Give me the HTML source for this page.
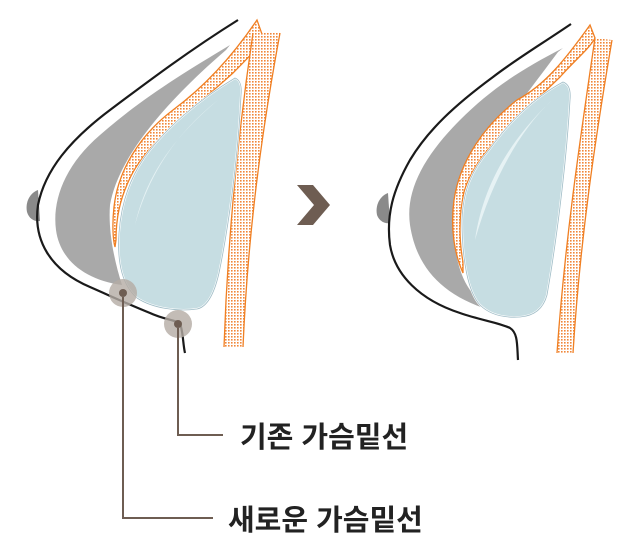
<!DOCTYPE html>
<html><head><meta charset="utf-8"><style>
html,body{margin:0;padding:0;background:#fff;}
svg{display:block;}
</style></head><body>
<svg width="638" height="554" viewBox="0 0 638 554" xmlns="http://www.w3.org/2000/svg">
<defs>
<pattern id="dots" width="3" height="3" patternUnits="userSpaceOnUse">
<rect width="3" height="3" fill="#fff"/>
<rect width="1.6" height="1.6" fill="#f0873a"/>
</pattern>
</defs>

<!-- LEFT FIGURE -->
<path d="M38,190 C30,193 25,202 27,212 C29,219 35,222 40,221 Z" fill="#8a8a8a"/>
<path d="M230,45 C180,75 140,100 100,135 C65,165 52,200 56,230 C60,260 85,280 122,285 C114,260 108,230 110,205 C116,170 145,120 226,50 Z" fill="#a9a9a9"/>
<path d="M257,20 C230,60 200,90 173,110 C140,135 118,170 114,207 C112,225 113,240 115,247 L116,240 C116,220 119,200 131,176 C148,142 190,112 233,73 C248,58 258,48 263,37 Z" fill="url(#dots)" stroke="#f07f22" stroke-width="1.3"/>
<path d="M253,33 C240,120 228,230 224,347 L243,347 C248,230 262,130 280,33 Z" fill="url(#dots)"/>
<path d="M253,33 C240,120 228,230 224,347" fill="none" stroke="#f07f22" stroke-width="1.3"/>
<path d="M280,33 C262,130 248,230 243,347" fill="none" stroke="#f07f22" stroke-width="1.3"/>
<path d="M235,78 C240,80 242,85 241,95 C238,160 228,230 219,273 C214,295 207,307 197,309 C177,312 152,308 137,298 C122,285 117,262 119,233 C121,205 129,180 144,158 C164,130 198,100 235,78 Z" fill="#c6dde2" stroke="#fff" stroke-width="2"/>
<path d="M235,78 C240,80 242,85 241,95 C238,160 228,230 219,273 C214,295 207,307 197,309 C177,312 152,308 137,298 C122,285 117,262 119,233 C121,205 129,180 144,158 C164,130 198,100 235,78 Z" fill="none" stroke="#9fbcc6" stroke-width="0.8"/>
<path d="M218,100 C180,130 150,170 135,225 C145,180 170,140 218,100 Z" fill="#e6f2f4"/>
<path d="M238,20 C190,50 150,80 110,110 C70,140 45,170 38,205 C33,240 50,270 90,287 C115,298 130,305 150,313 C165,320 177,320 180,324 C183,330 183,345 185,353" fill="none" stroke="#1a1a1a" stroke-width="2.2"/>
<circle cx="123" cy="293" r="14" fill="#b4aba4" opacity="0.8"/>
<circle cx="123" cy="293" r="4" fill="#6e5d52"/>
<circle cx="178" cy="324" r="14" fill="#b4aba4" opacity="0.8"/>
<circle cx="178" cy="324" r="4" fill="#6e5d52"/>
<polyline points="123,297 123,518 213,518" fill="none" stroke="#6e5d52" stroke-width="2"/>
<polyline points="178,328 178,435 223,435" fill="none" stroke="#6e5d52" stroke-width="2"/>
<text x="228" y="530" font-family="'Liberation Sans','Noto Sans CJK KR',sans-serif" font-size="29" font-weight="bold" fill="#222">새로운 가슴밑선</text>
<text x="240" y="447" font-family="'Liberation Sans','Noto Sans CJK KR',sans-serif" font-size="29" font-weight="bold" fill="#222">기존 가슴밑선</text>

<path d="M297,185 L313,185 L330,205 L313,225 L297,225 L314,205 Z" fill="#6e5d52"/>

<!-- RIGHT FIGURE -->
<path d="M388,193 C380,196 375,205 377,215 C379,221 385,224 390,223 Z" fill="#8a8a8a"/>
<path d="M563,48 C520,70 490,90 460,120 C425,155 405,190 410,225 C416,265 440,295 490,310 L470,290 C456,270 452,240 456,210 C466,170 500,130 558,52 Z" fill="#a9a9a9"/>
<path d="M590,25 C565,60 545,85 517,100 C485,125 460,160 454,200 C450,230 455,255 463,273 L463,262 C459,240 459,215 464,192 C474,157 505,130 560,77 C575,60 590,48 595,38 Z" fill="url(#dots)" stroke="#f07f22" stroke-width="1.3"/>
<path d="M595,38 C580,140 565,240 557,353 L573,353 C580,240 595,140 612,40 Z" fill="url(#dots)"/>
<path d="M595,38 C580,140 565,240 557,353" fill="none" stroke="#f07f22" stroke-width="1.3"/>
<path d="M612,40 C595,140 580,240 573,353" fill="none" stroke="#f07f22" stroke-width="1.3"/>
<path d="M563,82 C569,84 571,90 570,100 C566,170 555,250 547,295 C543,310 533,316 520,317 C505,318 490,315 480,305 C468,292 462,260 462,220 C463,190 472,170 489,150 C507,125 530,100 563,82 Z" fill="#c6dde2" stroke="#fff" stroke-width="2"/>
<path d="M563,82 C569,84 571,90 570,100 C566,170 555,250 547,295 C543,310 533,316 520,317 C505,318 490,315 480,305 C468,292 462,260 462,220 C463,190 472,170 489,150 C507,125 530,100 563,82 Z" fill="none" stroke="#9fbcc6" stroke-width="0.8"/>
<path d="M552,100 C520,130 492,180 475,240 C483,185 510,140 552,100 Z" fill="#e6f2f4"/>
<path d="M571,24 C540,45 515,60 493,77 C455,105 428,130 410,160 C393,190 386,215 390,245 C395,275 420,300 460,313 C480,320 500,323 510,328 C518,333 517,345 518,360" fill="none" stroke="#1a1a1a" stroke-width="2.2"/>
</svg>
</body></html>
